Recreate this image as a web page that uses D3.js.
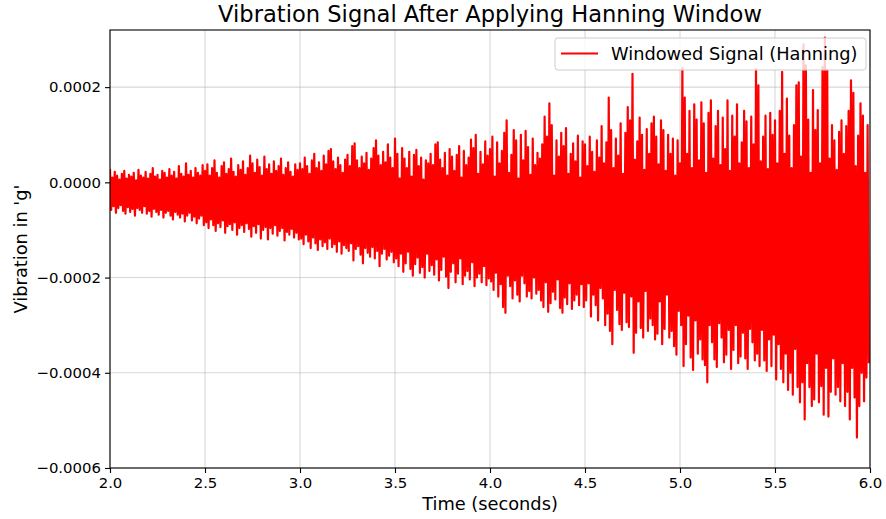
<!DOCTYPE html>
<html>
<head>
<meta charset="utf-8">
<script src="https://cdn.jsdelivr.net/npm/d3@7"></script>
<style>
  body { margin: 0; background: #fff; }
  svg { font-family: "DejaVu Sans", sans-serif; }
</style>
</head>
<body>
<svg id="chart" width="886" height="519"></svg>
<script>
// signal peaks in micro-g: one high and one low per 0.0125 s step, 2.0 s to 6.0 s
const startTime = 2.0;
const sampleStep = 0.0125;
const peakHi = [
  // 2.0 - 2.5
  28, 10, 22, 14, 6, 18, 24, 8, 16, 12, 20, 4, 26, 14, 10, 22, 8, 18, 30, 12,
  16, 6, 24, 20, 10, 28, 14, 22, 8, 34, 18, 12, 40, 16, 24, 10, 30, 20, 14, 36,
  // 2.5 - 3.0
  24, 38, 14, 30, 46, 20, 10, 34, 42, 18, 28, 50, 22, 12, 36, 26, 44, 16, 30, 56,
  40, 20, 48, 32, 14, 54, 28, 38, 18, 44, 24, 34, 50, 16, 30, 42, 22, 12, 38, 26,
  // 3.0 - 3.5
  40, 28, 52, 34, 18, 46, 60, 30, 42, 24, 56, 38, 66, 70, 44, 28, 52, 36, 20, 48,
  58, 34, 76, 82, 46, 30, 54, 40, 62, 26, 50, 72, 88, 56, 36, 64, 42, 80, 52, 30,
  // 3.5 - 4.0
  92, 60, 8, 72, 50, 30, 64, 12, 58, 68, 34, 52, 6, 46, 40, 60, 36, 80, 84, 48,
  30, 62, 14, 70, 54, 24, 58, 76, 10, 66, 36, 52, 90, 72, 100, 18, 64, 38, 86, 56,
  // 4.0 - 4.5
  70, 96, 12, 84, 40, 66, 104, 130, 20, 58, 110, 88, 8, 100, 46, 108, 74, 16, 92, 36,
  62, 50, 80, 138, 96, 166, 120, 14, 88, 54, 104, 76, 114, 18, 60, 82, 44, 98, 10, 86,
  // 4.5 - 5.0
  80, 34, 96, 64, 22, 88, 52, 118, 40, 84, 178, 110, 30, 92, 56, 124, 18, 104, 158, 130,
  228, 48, 86, 136, 100, 26, 112, 60, 124, 138, 96, 38, 130, 110, 24, 100, 60, 92, 14, 88,
  // 5.0 - 5.5
  40, 240, 178, 60, 150, 30, 164, 132, 46, 168, 124, 20, 146, 172, 50, 118, 150, 36, 136, 70,
  172, 24, 140, 96, 164, 40, 84, 150, 128, 30, 138, 80, 238, 204, 44, 96, 140, 28, 146, 100,
  // 5.5 - 6.0
  130, 40, 150, 232, 60, 176, 98, 30, 120, 204, 210, 54, 290, 246, 132, 20, 194, 110, 152, 40,
  242, 304, 236, 50, 120, 88, 26, 106, 130, 60, 118, 150, 214, 188, 34, 98, 166, 140, 20, 120
];
const peakLo = [
  // 2.0 - 2.5
  -58, -50, -64, -54, -48, -60, -66, -52, -62, -56, -70, -54, -58, -64, -50, -66, -60, -72, -56, -62,
  -68, -58, -74, -64, -60, -70, -78, -62, -68, -74, -66, -82, -70, -64, -80, -72, -86, -76, -70, -90,
  // 2.5 - 3.0
  -84, -96, -78, -90, -102, -86, -94, -80, -106, -92, -88, -100, -84, -110, -96, -90, -104, -86, -98, -114,
  -92, -106, -88, -118, -100, -94, -120, -96, -108, -90, -112, -102, -96, -122, -104, -110, -98, -116, -106, -120,
  // 3.0 - 3.5
  -118, -130, -110, -124, -138, -116, -128, -142, -120, -134, -126, -140, -118, -136, -130, -146, -124, -150, -132, -138,
  -144, -128, -164, -140, -134, -152, -170, -138, -148, -156, -136, -160, -144, -176, -150, -140, -162, -154, -146, -168,
  // 3.5 - 4.0
  -160, -176, -150, -188, -170, -146, -182, -196, -172, -158, -190, -178, -200, -150, -186, -174, -194, -162, -206, -184,
  -156, -198, -222, -188, -170, -210, -192, -160, -214, -196, -186, -204, -168, -218, -200, -192, -210, -176, -216, -202,
  // 4.0 - 4.5
  -208, -226, -190, -240, -214, -262, -274, -196, -218, -244, -206, -236, -250, -196, -212, -240, -228, -244, -200, -234,
  -226, -248, -262, -210, -272, -254, -230, -246, -204, -264, -274, -242, -256, -212, -266, -248, -236, -258, -214, -262,
  // 4.5 - 5.0
  -248, -212, -282, -236, -258, -290, -222, -244, -300, -276, -312, -340, -226, -268, -298, -310, -232, -294, -304, -240,
  -358, -316, -250, -306, -326, -228, -312, -286, -300, -330, -318, -250, -340, -308, -236, -326, -312, -344, -362, -270,
  // 5.0 - 5.5
  -300, -386, -340, -280, -368, -394, -290, -360, -330, -372, -384, -420, -300, -336, -372, -388, -296, -326, -378, -362,
  -310, -392, -352, -300, -380, -366, -316, -370, -392, -308, -336, -374, -360, -386, -310, -374, -396, -330, -386, -320,
  // 5.5 - 6.0
  -414, -340, -392, -420, -360, -436, -400, -446, -350, -430, -462, -420, -498, -380, -430, -470, -456, -360, -462, -428,
  -488, -390, -492, -440, -370, -446, -430, -460, -380, -470, -440, -498, -390, -452, -536, -470, -400, -460, -410, -380
];

const xTicks = [2.0, 2.5, 3.0, 3.5, 4.0, 4.5, 5.0, 5.5, 6.0];
const yTicks = [0.0002, 0.0, -0.0002, -0.0004, -0.0006];

const ug = 1e-6;
const margin = { left: 110, right: 16, top: 30, bottom: 51 };
const W = 886, H = 519;
const yMin = -0.0006, yMax = 0.00032;

const x = d3.scaleLinear().domain([2, 6]).range([margin.left, W - margin.right]);
const y = d3.scaleLinear().domain([yMin, yMax]).range([H - margin.bottom, margin.top]);

const svg = d3.select("#chart");

svg.append("defs").append("clipPath").attr("id", "plot-clip")
  .append("rect")
  .attr("x", x(2)).attr("y", y(yMax))
  .attr("width", x(6) - x(2)).attr("height", y(yMin) - y(yMax));

// grid
const grid = svg.append("g").attr("class", "grid");
grid.selectAll(".vgrid").data(xTicks).join("line")
  .attr("x1", (d) => x(d)).attr("x2", (d) => x(d))
  .attr("y1", y(yMax)).attr("y2", y(yMin))
  .attr("stroke", "#b0b0b0").attr("stroke-opacity", 0.5).attr("stroke-width", 1.1);
grid.selectAll(".hgrid").data(yTicks).join("line")
  .attr("x1", x(2)).attr("x2", x(6))
  .attr("y1", (d) => y(d)).attr("y2", (d) => y(d))
  .attr("stroke", "#b0b0b0").attr("stroke-opacity", 0.5).attr("stroke-width", 1.1);

// signal
let signal = [];
peakHi.forEach((v, i) => {
  const t = startTime + i * sampleStep;
  signal.push([t, v * ug]);
  signal.push([t + sampleStep / 2, peakLo[i] * ug]);
});

svg.append("g").attr("clip-path", "url(#plot-clip)")
  .append("path")
  .datum(signal)
  .attr("fill", "none")
  .attr("stroke", "red")
  .attr("stroke-width", 2.2)
  .attr("stroke-linejoin", "round")
  .attr("d", d3.line().x((d) => x(d[0])).y((d) => y(d[1])));

// axes
const xAxis = svg.append("g")
  .attr("transform", `translate(0,${y(yMin)})`)
  .call(d3.axisBottom(x).tickValues(xTicks).tickFormat(d3.format(".1f")).tickSizeOuter(0).tickSize(5).tickPadding(4));
const yAxis = svg.append("g")
  .attr("transform", `translate(${x(2)},0)`)
  .call(d3.axisLeft(y).tickValues(yTicks).tickFormat(d3.format(".4f")).tickSizeOuter(0).tickSize(5).tickPadding(4));
[xAxis, yAxis].forEach((a) => {
  a.select(".domain").remove();
  a.selectAll(".tick line").attr("stroke", "#000").attr("stroke-width", 1.1);
  a.selectAll(".tick text").attr("fill", "#000").style("font-size", "14.9px").style("font-family", "DejaVu Sans");
});

// spines
svg.append("rect")
  .attr("x", x(2)).attr("y", y(yMax))
  .attr("width", x(6) - x(2)).attr("height", y(yMin) - y(yMax))
  .attr("fill", "none").attr("stroke", "#000").attr("stroke-width", 1.1);

// labels
svg.append("text")
  .attr("x", (x(2) + x(6)) / 2).attr("y", 22)
  .attr("text-anchor", "middle")
  .style("font-size", "22.6px")
  .text("Vibration Signal After Applying Hanning Window");
svg.append("text")
  .attr("x", (x(2) + x(6)) / 2).attr("y", 510)
  .attr("text-anchor", "middle")
  .style("font-size", "17.8px")
  .text("Time (seconds)");
svg.append("text")
  .attr("transform", `translate(27,${(y(yMax) + y(yMin)) / 2}) rotate(-90)`)
  .attr("text-anchor", "middle")
  .style("font-size", "17.8px")
  .text("Vibration in 'g'");

// legend
const legend = svg.append("g").attr("transform", "translate(555,38)");
legend.append("rect")
  .attr("width", 311).attr("height", 32).attr("rx", 3)
  .attr("fill", "#fff").attr("fill-opacity", 0.8)
  .attr("stroke", "#cccccc").attr("stroke-width", 1);
legend.append("line")
  .attr("x1", 6).attr("x2", 43).attr("y1", 15.5).attr("y2", 15.5)
  .attr("stroke", "red").attr("stroke-width", 2.2);
legend.append("text")
  .attr("x", 56).attr("y", 22)
  .style("font-size", "17.8px")
  .text("Windowed Signal (Hanning)");
</script>
</body>
</html>
